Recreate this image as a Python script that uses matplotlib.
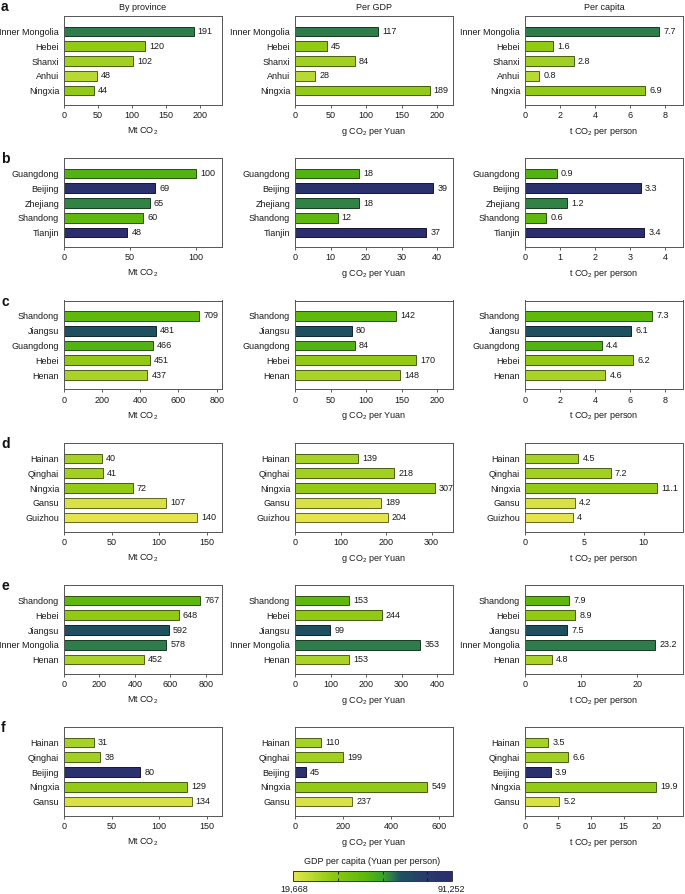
import matplotlib
matplotlib.use("Agg")
import matplotlib.pyplot as plt
import numpy as np
from matplotlib.colors import LinearSegmentedColormap, Normalize, to_rgb

plt.rcParams['font.family'] = ['Liberation Sans', 'DejaVu Sans']
plt.rcParams['mathtext.default'] = 'regular'

# ---------------- data ----------------
panel_letters = ['a', 'b', 'c', 'd', 'e', 'f']
col_titles = ['By province', 'Per GDP', 'Per capita']
x_labels = ['Mt CO$_2$', 'g CO$_2$ per Yuan', 't CO$_2$ per person']

provinces_a = ['Inner Mongolia', 'Hebei', 'Shanxi', 'Anhui', 'Ningxia']
total_a = [191, 120, 102, 48, 44]
per_gdp_a = [117, 45, 84, 28, 189]
per_cap_a = [7.7, 1.6, 2.8, 0.8, 6.9]

provinces_b = ['Guangdong', 'Beijing', 'Zhejiang', 'Shandong', 'Tianjin']
total_b = [100, 69, 65, 60, 48]
per_gdp_b = [18, 39, 18, 12, 37]
per_cap_b = [0.9, 3.3, 1.2, 0.6, 3.4]

provinces_c = ['Shandong', 'Jiangsu', 'Guangdong', 'Hebei', 'Henan']
total_c = [709, 481, 466, 451, 437]
per_gdp_c = [142, 80, 84, 170, 148]
per_cap_c = [7.3, 6.1, 4.4, 6.2, 4.6]

provinces_d = ['Hainan', 'Qinghai', 'Ningxia', 'Gansu', 'Guizhou']
total_d = [40, 41, 72, 107, 140]
per_gdp_d = [139, 218, 307, 189, 204]
per_cap_d = [4.5, 7.2, 11.1, 4.2, 4]

provinces_e = ['Shandong', 'Hebei', 'Jiangsu', 'Inner Mongolia', 'Henan']
total_e = [767, 648, 592, 578, 452]
per_gdp_e = [153, 244, 99, 353, 153]
per_cap_e = [7.9, 8.9, 7.5, 23.2, 4.8]

provinces_f = ['Hainan', 'Qinghai', 'Beijing', 'Ningxia', 'Gansu']
total_f = [31, 38, 80, 129, 134]
per_gdp_f = [110, 199, 45, 549, 237]
per_cap_f = [3.5, 6.6, 3.9, 19.9, 5.2]

# GDP per capita (Yuan per person)
gdp_per_capita = {
    'Guizhou': 19710, 'Gansu': 21978, 'Anhui': 28792, 'Henan': 31499,
    'Hainan': 32377, 'Qinghai': 33181, 'Shanxi': 33628, 'Ningxia': 36394,
    'Hebei': 36584, 'Shandong': 51768, 'Guangdong': 54095, 'Zhejiang': 63374,
    'Inner Mongolia': 63886, 'Jiangsu': 68347, 'Beijing': 87475, 'Tianjin': 93173,
}
gdp_min, gdp_max = 19668, 91252
cbar_ticks = [40000, 60000, 80000]

# axis limits and ticks per panel (rows a-f, cols 1-3)
xlims = [[233, 222, 9.05],
         [120, 44.5, 4.5],
         [828, 222, 9.05],
         [166, 347, 13.3],
         [892, 445, 28.1],
         [166, 657, 24.0]]
xticks = [[[0, 50, 100, 150, 200], [0, 50, 100, 150, 200], [0, 2, 4, 6, 8]],
          [[0, 50, 100], [0, 10, 20, 30, 40], [0, 1, 2, 3, 4]],
          [[0, 200, 400, 600, 800], [0, 50, 100, 150, 200], [0, 2, 4, 6, 8]],
          [[0, 50, 100, 150], [0, 100, 200, 300], [0, 5, 10]],
          [[0, 200, 400, 600, 800], [0, 100, 200, 300, 400], [0, 10, 20]],
          [[0, 50, 100, 150], [0, 200, 400, 600], [0, 5, 10, 15, 20]]]

rows = [
    (provinces_a, [total_a, per_gdp_a, per_cap_a]),
    (provinces_b, [total_b, per_gdp_b, per_cap_b]),
    (provinces_c, [total_c, per_gdp_c, per_cap_c]),
    (provinces_d, [total_d, per_gdp_d, per_cap_d]),
    (provinces_e, [total_e, per_gdp_e, per_cap_e]),
    (provinces_f, [total_f, per_gdp_f, per_cap_f]),
]

# ---------------- colormap ----------------
cmap = LinearSegmentedColormap.from_list('gdp', [
    (0.00, '#e6e44c'),
    (0.13, '#b6d832'),
    (0.24, '#90c912'),
    (0.45, '#5eb90c'),
    (0.56, '#3aa624'),
    (0.62, '#2e7c4a'),
    (0.68, '#1f5060'),
    (0.85, '#283a6a'),
    (1.00, '#2c2d6e'),
])
norm = Normalize(gdp_min, gdp_max, clip=True)

# ---------------- layout ----------------
W, H = 685, 894
fig = plt.figure(figsize=(W / 100, H / 100), dpi=100)

col_left = [64, 295, 525]
ax_w = 158
row_top = [16, 158, 300.5, 443, 585, 727]
ax_h = 89
fs = 6.5


def px_axes(x0, y0, w, h):
    return fig.add_axes([x0 / W, 1 - (y0 + h) / H, w / W, h / H])


for r, (provs, series) in enumerate(rows):
    colors = [cmap(norm(gdp_per_capita[p])) for p in provs]
    edges = [tuple(np.array(to_rgb(c)) * 0.45) for c in colors]
    for c in range(3):
        ax = px_axes(col_left[c], row_top[r], ax_w, ax_h)
        vals = series[c]
        y = np.arange(len(provs))
        ax.barh(y, vals, height=0.66, color=colors, edgecolor=edges, linewidth=0.7)
        for yi, v in zip(y, vals):
            ax.annotate(f'{v:g}', (v, yi), xytext=(3, 0), textcoords='offset points',
                        va='center', ha='left', fontsize=fs, color='#1a1a1a')
        ax.set_yticks(y)
        ax.set_yticklabels(provs, fontsize=fs, color='#1a1a1a')
        ax.set_ylim(4.98, -1.05)
        ax.set_xlim(0, xlims[r][c])
        ax.set_xticks(xticks[r][c])
        ax.set_xticklabels([f'{t:g}' for t in xticks[r][c]], fontsize=fs, color='#1a1a1a')
        ax.tick_params(axis='y', length=0, pad=3.5)
        ax.tick_params(axis='x', length=2.5, width=0.6, pad=2, direction='out', color='#444444')
        for s in ax.spines.values():
            s.set_linewidth(0.7)
            s.set_color('#555555')
        ax.set_xlabel(x_labels[c], fontsize=fs, color='#1a1a1a', labelpad=4)
        if r == 0:
            ax.set_title(col_titles[c], fontsize=fs, color='#1a1a1a', pad=4)
    # panel letter
    ly = 7 if r == 0 else row_top[r] + 1
    fig.text(1 / W, 1 - ly / H, panel_letters[r], fontsize=10, fontweight='bold',
             va='center', ha='left', color='#111111')

# ---------------- colorbar ----------------
cax = px_axes(293, 871, 159, 10)
sm = plt.cm.ScalarMappable(norm=Normalize(gdp_min, gdp_max), cmap=cmap)
cb = fig.colorbar(sm, cax=cax, orientation='horizontal')
cb.set_ticks(cbar_ticks)
cb.ax.tick_params(axis='x', which='both', direction='in', length=2.5, width=0.6,
                  labelbottom=False, top=True, bottom=True, color='#111111')
cb.outline.set_linewidth(0.7)
cb.outline.set_edgecolor('#333333')
fig.text((293 + 159 / 2) / W, 1 - 861 / H, 'GDP per capita (Yuan per person)',
         fontsize=fs, ha='center', va='center', color='#1a1a1a')
fig.text(294 / W, 1 - 889 / H, f'{gdp_min:,}', fontsize=fs, ha='center', va='center', color='#1a1a1a')
fig.text(451 / W, 1 - 889 / H, f'{gdp_max:,}', fontsize=fs, ha='center', va='center', color='#1a1a1a')

fig.savefig('out.png', dpi=100)
